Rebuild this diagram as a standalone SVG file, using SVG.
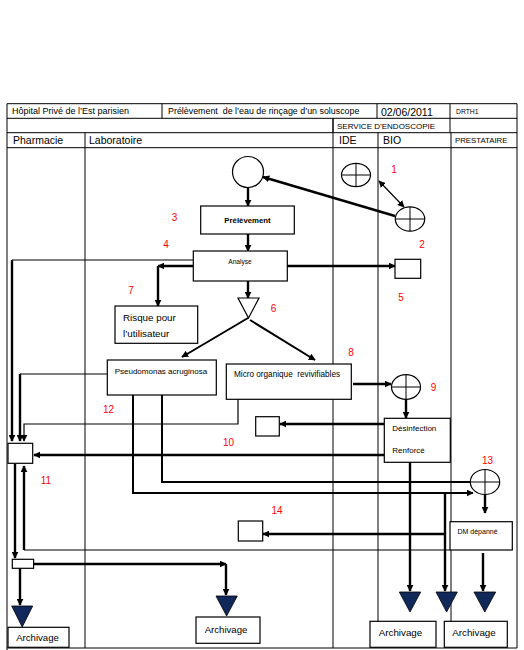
<svg xmlns="http://www.w3.org/2000/svg" width="524" height="650" viewBox="0 0 524 650">
<style>
text{font-family:"Liberation Sans",Arial,sans-serif;fill:#000}
.g{stroke:#000;stroke-width:1;fill:none}
.b{stroke:#000;stroke-width:1.2;fill:#fff}
.t{stroke:#000;stroke-width:2.4;fill:none}
.n{stroke:#000;stroke-width:1.2;fill:none}
.r{fill:#f00;font-size:10px;text-anchor:middle}
.tri{fill:#10295a;stroke:#000;stroke-width:0.8}
.pre{white-space:pre}
</style>
<defs>
<marker id="a" viewBox="0 0 10 10" refX="9" refY="5" markerWidth="7" markerHeight="7" markerUnits="userSpaceOnUse" orient="auto-start-reverse"><path d="M0,0L10,5L0,10z" fill="#000"/></marker>
</defs>
<rect width="524" height="650" fill="#fff"/>
<g id="grid">
<path class="g" d="M7,103.7H517M7,118.3H517M7,132.7H517M7,147.7H517M7,103.7V650M517,103.7V648M7,648H517"/>
<path class="g" d="M162,103.7V118.3M377,103.7V118.3M450,103.7V132.7M333,118.3V132.7"/>
<path class="g" d="M85,132.7V648M333,118.3V648M378,132.7V648M451,132.7V648"/>
<text x="12" y="114.3" font-size="9">Hôpital Privé de l’Est parisien</text>
<text x="168" y="114.3" font-size="8.9" class="pre">Prélèvement  de l’eau de rinçage d’un soluscope</text>
<text x="381" y="115.5" font-size="10.5">02/06/2011</text>
<text x="456" y="114" font-size="6.8">DRTH1</text>
<text x="337" y="128.5" font-size="8">SERVICE D’ENDOSCOPIE</text>
<text x="13" y="144" font-size="10.5">Pharmacie</text>
<text x="89" y="144" font-size="10.5">Laboratoire</text>
<text x="339" y="144" font-size="10.5">IDE</text>
<text x="383" y="144" font-size="10.5">BIO</text>
<text x="455" y="143" font-size="7.8">PRESTATAIRE</text>
</g>
<g id="connectors">
<path class="t" d="M248,187.5V206" marker-end="url(#a)"/>
<path class="t" d="M248,234V251" marker-end="url(#a)"/>
<path class="t" d="M248,281V298" marker-end="url(#a)"/>
<path class="t" d="M248,318L182,357" marker-end="url(#a)" style="stroke-width:2"/>
<path class="t" d="M250,320L315,360" marker-end="url(#a)" style="stroke-width:2"/>
<path class="t" d="M193,266H158" marker-end="url(#a)"/>
<path class="t" d="M158,266V306" marker-end="url(#a)"/>
<path class="n" d="M193,260H12"/>
<path class="t" d="M12,260V441" marker-end="url(#a)"/>
<path class="n" d="M107,374H20"/>
<path class="t" d="M20,374V441" marker-end="url(#a)"/>
<path class="n" d="M238,399V424H24V441" marker-end="url(#a)"/>
<path class="t" d="M384,455H34" marker-end="url(#a)"/>
<path class="t" d="M384,424H280" marker-end="url(#a)"/>
<path class="t" d="M353,384H391" marker-end="url(#a)"/>
<path class="t" d="M406,399V418" marker-end="url(#a)"/>
<path class="t" d="M395,216L263,177" marker-end="url(#a)"/>
<path class="n" d="M379,181L404,207" marker-start="url(#a)" marker-end="url(#a)"/>
<path class="t" d="M287,266H395" marker-end="url(#a)"/>
<path class="t" d="M162,395V482H470" style="stroke-width:2"/>
<path class="t" d="M133,395V493H473" style="stroke-width:2" marker-end="url(#a)"/>
<path class="t" d="M485,494V513" marker-end="url(#a)"/>
<path class="t" d="M410,462V591" marker-end="url(#a)"/>
<path class="t" d="M445,493V591" marker-end="url(#a)"/>
<path class="t" d="M445,534H263" marker-end="url(#a)"/>
<path class="t" d="M483,553V591" marker-end="url(#a)"/>
<path class="n" d="M450,550H24"/>
<path class="t" d="M24,550V466" marker-end="url(#a)"/>
<path class="t" d="M15,464V558" marker-end="url(#a)"/>
<path class="t" d="M33,564H226" marker-end="url(#a)"/>
<path class="t" d="M226,564V595" marker-end="url(#a)"/>
<path class="t" d="M20,568V605" marker-end="url(#a)"/>
</g>
<g id="start"><circle class="b" cx="248" cy="172" r="15.5"/></g>
<g id="prelevement"><rect class="b" x="200.7" y="206" width="93.6" height="28"/><text x="247.5" y="223" font-size="7.8" font-weight="bold" text-anchor="middle">Prélèvement</text></g>
<g id="analyse"><rect class="b" x="193.3" y="251" width="94" height="30"/><text x="240" y="264" font-size="6.6" text-anchor="middle">Analyse</text></g>
<g id="decision"><polygon class="b" points="238,298 259,298 248.5,318"/></g>
<g id="c1"><ellipse class="b" cx="356" cy="175" rx="14.5" ry="11.7"/><path class="n" d="M341.5,175H370.5M356,163.3V186.7" style="stroke-width:1"/></g>
<g id="c2"><ellipse class="b" cx="410" cy="219" rx="14.7" ry="12.2"/><path class="n" d="M395.3,219H424.7M410,206.8V231.2" style="stroke-width:1"/></g>
<g id="box5"><rect class="b" x="395" y="259.3" width="25.7" height="19"/></g>
<g id="risque"><rect class="b" x="115" y="306" width="82.7" height="37.3"/><text x="123" y="321" font-size="9.8">Risque pour</text><text x="123" y="337" font-size="9.8">l’utilisateur</text></g>
<g id="pseudomonas"><rect class="b" x="107.3" y="360" width="109" height="35"/><text x="114.7" y="373.5" font-size="8">Pseudomonas acruginosa</text></g>
<g id="micro"><rect class="b" x="226.3" y="364" width="125" height="35.3"/><text x="234" y="377" font-size="8.2" class="pre">Micro organique  revivifiables</text></g>
<g id="c9"><ellipse class="b" cx="406" cy="387" rx="14.5" ry="12.3"/><path class="n" d="M391.5,387H420.5M406,374.7V399.3" style="stroke-width:1"/></g>
<g id="desinfection"><rect class="b" x="384.3" y="418.3" width="66" height="44"/><text x="392.3" y="431" font-size="8">Désinfection</text><text x="392.3" y="453" font-size="8">Renforcé</text></g>
<g id="box10"><rect class="b" x="255.7" y="416.7" width="23.6" height="19.3"/></g>
<g id="box11"><rect class="b" x="8" y="443.3" width="24.7" height="20"/></g>
<g id="c13"><ellipse class="b" cx="485" cy="482" rx="14.7" ry="12.5"/><path class="n" d="M470.3,482H499.7M485,469.5V494.5" style="stroke-width:1"/></g>
<g id="dm"><rect class="b" x="450" y="521.7" width="62.3" height="28.3"/><text x="457.5" y="533.5" font-size="7">DM dépanné</text></g>
<g id="box14"><rect class="b" x="238.3" y="521" width="24.4" height="20"/></g>
<g id="smallbox"><rect class="b" x="12.3" y="559.3" width="21.3" height="9"/></g>
<g id="arch1"><polygon class="tri" points="11.7,606 32.7,606 22.2,627"/><rect class="b" x="8" y="627.3" width="61" height="20"/><text x="37.5" y="641" font-size="9.6" text-anchor="middle">Archivage</text></g>
<g id="arch2"><polygon class="tri" points="216,596 237.3,596 226.6,616"/><rect class="b" x="196" y="617" width="64" height="26.3"/><text x="226" y="633" font-size="9.6" text-anchor="middle">Archivage</text></g>
<g id="arch3"><polygon class="tri" points="399.3,592 420.7,592 410,612"/><rect class="b" x="370" y="621.3" width="66" height="26"/><text x="400.5" y="636" font-size="9.8" text-anchor="middle">Archivage</text></g>
<g id="arch4"><polygon class="tri" points="436,592 457.3,592 446.6,612"/><rect class="b" x="444.3" y="621.3" width="63" height="26"/><text x="474" y="636" font-size="9.8" text-anchor="middle">Archivage</text></g>
<g id="arch5"><polygon class="tri" points="474,592 495.7,592 484.8,612"/></g>
<g id="labels">
<text class="r" x="394" y="172.5">1</text>
<text class="r" x="422" y="247.5">2</text>
<text class="r" x="174.5" y="220.5">3</text>
<text class="r" x="166" y="248">4</text>
<text class="r" x="401" y="300.5">5</text>
<text class="r" x="273.5" y="311.5">6</text>
<text class="r" x="131" y="293.5">7</text>
<text class="r" x="351" y="356">8</text>
<text class="r" x="433.5" y="390.5">9</text>
<text class="r" x="228.5" y="445.5">10</text>
<text class="r" x="46" y="483.5">11</text>
<text class="r" x="108.5" y="412.5">12</text>
<text class="r" x="487.5" y="463.5">13</text>
<text class="r" x="277" y="513.5">14</text>
</g>
</svg>
